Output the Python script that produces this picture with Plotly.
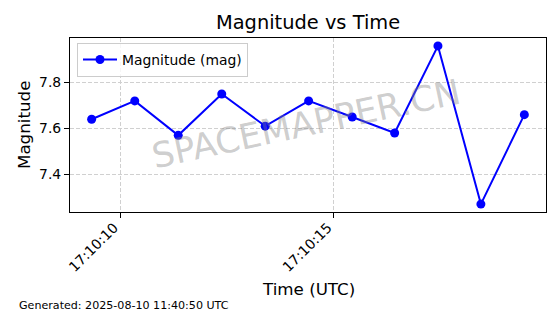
import plotly.graph_objects as go
from datetime import datetime

# ---- data ----
times = [
    "2025-08-10 17:10:09.336",
    "2025-08-10 17:10:10.345",
    "2025-08-10 17:10:11.362",
    "2025-08-10 17:10:12.380",
    "2025-08-10 17:10:13.397",
    "2025-08-10 17:10:14.413",
    "2025-08-10 17:10:15.432",
    "2025-08-10 17:10:16.425",
    "2025-08-10 17:10:17.438",
    "2025-08-10 17:10:18.443",
    "2025-08-10 17:10:19.460",
]
magnitudes = [7.64, 7.72, 7.57, 7.75, 7.61, 7.72, 7.65, 7.58, 7.96, 7.27, 7.66]
x_tick_vals = ["2025-08-10 17:10:10", "2025-08-10 17:10:15"]
x_tick_text = ["17:10:10", "17:10:15"]
y_tick_vals = [7.4, 7.6, 7.8]
series_name = "Magnitude (mag)"
title_text = "Magnitude vs Time"
x_title = "Time (UTC)"
y_title = "Magnitude"
footer_text = "Generated: 2025-08-10 11:40:50 UTC"
watermark = "SPACEMAPPER.CN"

FONT = "DejaVu Sans"
W, H = 560, 314
L, R, T, B = 70, 14, 38, 102

# matplotlib-like 5% margins
fmt = "%Y-%m-%d %H:%M:%S.%f"
tdt = [datetime.strptime(t, fmt) for t in times]
span = tdt[-1] - tdt[0]
xr = [tdt[0] - span * 0.05, tdt[-1] + span * 0.05]
ymin, ymax = min(magnitudes), max(magnitudes)
yr = [ymin - 0.05 * (ymax - ymin), ymax + 0.05 * (ymax - ymin)]

def px(xp, yp):
    return (xp - L) / (W - L - R), (H - B - yp) / (H - T - B)

fig = go.Figure()
fig.add_trace(go.Scatter(
    x=tdt, y=magnitudes, mode="lines+markers", name=series_name,
    line=dict(color="#0000ff", width=2), marker=dict(color="#0000ff", size=9),
))

annos = []
ax_, ay_ = px(308, 23)
annos.append(dict(text=title_text, x=ax_, y=ay_, xref="paper", yref="paper",
                  showarrow=False, font=dict(family=FONT, size=19.4, color="black"),
                  xanchor="center", yanchor="middle"))
ax_, ay_ = px(308, 289)
annos.append(dict(text=x_title, x=ax_, y=ay_, xref="paper", yref="paper",
                  showarrow=False, font=dict(family=FONT, size=16.7, color="black"),
                  xanchor="center", yanchor="middle"))
ax_, ay_ = px(24, 125)
annos.append(dict(text=y_title, x=ax_, y=ay_, xref="paper", yref="paper",
                  showarrow=False, textangle=-90, font=dict(family=FONT, size=16.7, color="black"),
                  xanchor="center", yanchor="middle"))
ax_, ay_ = px(17, 305)
annos.append(dict(text=footer_text, x=ax_, y=ay_, xref="paper", yref="paper",
                  showarrow=False, font=dict(family=FONT, size=11.1, color="black"),
                  xanchor="left", yanchor="middle"))
ax_, ay_ = px(306, 124)
annos.append(dict(text=watermark, x=ax_, y=ay_, xref="paper", yref="paper",
                  showarrow=False, textangle=-12,
                  font=dict(family=FONT, size=35, color="rgba(128,128,128,0.4)"),
                  xanchor="center", yanchor="middle"))

lx, ly = px(77, 43)
fig.update_layout(
    width=W, height=H, margin=dict(l=L, r=R, t=T, b=B, pad=0),
    paper_bgcolor="white", plot_bgcolor="white",
    font=dict(family=FONT, size=13.9, color="black"),
    showlegend=True,
    legend=dict(x=lx, y=ly, xanchor="left", yanchor="top",
                bgcolor="rgba(255,255,255,0.8)", bordercolor="#cccccc", borderwidth=1,
                font=dict(family=FONT, size=13.9), itemwidth=34),
    annotations=annos,
)
fig.update_xaxes(
    type="date", range=xr, tickvals=x_tick_vals, ticktext=x_tick_text, tickangle=-45,
    ticklabelshift=-6, ticklabelstandoff=-4,
    showline=True, linecolor="black", linewidth=1.1, mirror=True,
    ticks="outside", ticklen=5, tickwidth=1.1, tickcolor="black",
    showgrid=True, gridcolor="#d0d0d0", gridwidth=1, griddash="4px,2px",
    zeroline=False, tickfont=dict(family=FONT, size=13.9, color="black"),
)
fig.update_yaxes(
    range=yr, tickvals=y_tick_vals, tickformat=".1f",
    showline=True, linecolor="black", linewidth=1.1, mirror=True,
    ticks="outside", ticklen=5, tickwidth=1.1, tickcolor="black",
    showgrid=True, gridcolor="#d0d0d0", gridwidth=1, griddash="4px,2px",
    zeroline=False, tickfont=dict(family=FONT, size=13.9, color="black"),
)
fig.write_html("out.html")
